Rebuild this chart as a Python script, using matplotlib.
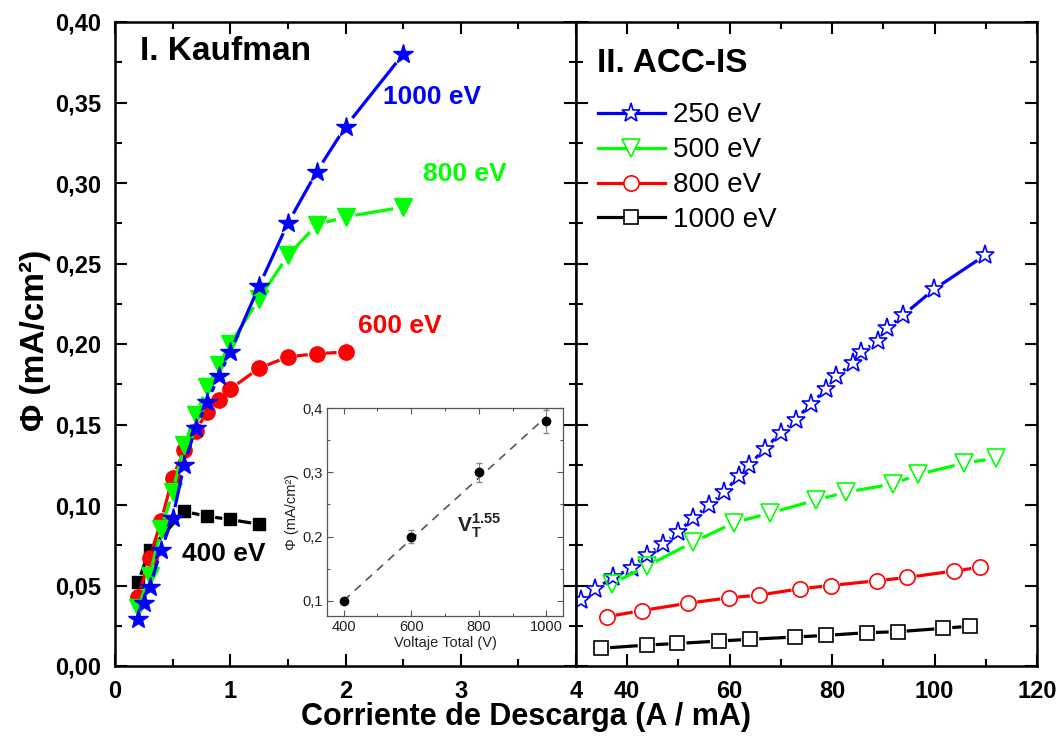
import matplotlib
matplotlib.use('Agg')
import matplotlib.pyplot as plt
from matplotlib.ticker import MultipleLocator, FixedLocator
from matplotlib.collections import LineCollection
import numpy as np

plt.rcParams['font.family'] = ['Liberation Sans', 'DejaVu Sans']
plt.rcParams['mathtext.fontset'] = 'custom'
plt.rcParams['mathtext.rm'] = 'Liberation Sans'
plt.rcParams['mathtext.bf'] = 'Liberation Sans:bold'

# ---------------- Data: panel I (Kaufman) ----------------
k1000_x = [0.2, 0.25, 0.3, 0.4, 0.5, 0.6, 0.7, 0.8, 0.9, 1.0, 1.25, 1.5, 1.75, 2.0, 2.5]
k1000_y = [0.029, 0.039, 0.049, 0.072, 0.092, 0.125, 0.148, 0.164, 0.180, 0.195, 0.236, 0.275, 0.307, 0.335, 0.380]
k800_x = [0.2, 0.3, 0.4, 0.5, 0.6, 0.7, 0.8, 0.9, 1.0, 1.25, 1.5, 1.75, 2.0, 2.5]
k800_y = [0.036, 0.056, 0.085, 0.108, 0.137, 0.156, 0.173, 0.187, 0.200, 0.228, 0.255, 0.274, 0.279, 0.285]
k600_x = [0.2, 0.3, 0.4, 0.5, 0.6, 0.7, 0.8, 0.9, 1.0, 1.25, 1.5, 1.75, 2.0]
k600_y = [0.043, 0.067, 0.090, 0.117, 0.134, 0.146, 0.158, 0.165, 0.172, 0.185, 0.192, 0.194, 0.195]
k400_x = [0.2, 0.3, 0.6, 0.8, 1.0, 1.25]
k400_y = [0.052, 0.072, 0.096, 0.093, 0.091, 0.088]

# ---------------- Data: panel II (ACC-IS) ----------------
a250_x = [31, 33.8, 37.3, 40.9, 43.8, 46.9, 49.9, 52.9, 56, 58.9, 61.8, 63.8, 66.9, 70, 72.9,
          75.9, 78.9, 80.8, 84, 85.7, 88.9, 90.8, 93.9, 99.9, 109.8]
a250_y = [0.041, 0.048, 0.055, 0.061, 0.069, 0.076, 0.083, 0.092, 0.100, 0.108, 0.118, 0.125, 0.135, 0.145, 0.153,
          0.163, 0.172, 0.180, 0.188, 0.195, 0.202, 0.210, 0.218, 0.234, 0.255]
a500_x = [37, 43.8, 52.9, 60.9, 67.9, 76.8, 82.8, 91.8, 96.8, 105.8, 111.9]
a500_y = [0.051, 0.062, 0.077, 0.089, 0.095, 0.103, 0.108, 0.113, 0.119, 0.126, 0.129]
a800_x = [36, 42.8, 51.9, 59.9, 65.7, 73.8, 79.8, 88.8, 94.7, 103.8, 108.9]
a800_y = [0.0306, 0.0344, 0.039, 0.0424, 0.044, 0.048, 0.050, 0.053, 0.055, 0.059, 0.0613]
a1000_x = [34.9, 43.8, 49.8, 57.9, 64, 72.7, 78.8, 86.8, 92.8, 101.7, 107]
a1000_y = [0.011, 0.013, 0.014, 0.0155, 0.0166, 0.018, 0.019, 0.0207, 0.0213, 0.0234, 0.0248]

# ---------------- Data: inset ----------------
ins_x = [400, 600, 800, 1000]
ins_y = [0.10, 0.20, 0.30, 0.38]
ins_err = [0.004, 0.010, 0.015, 0.018]
fit_x = [400, 1000]
fit_y = [0.10, 0.387]

# ticks / labels
k_xticks = [0, 1, 2, 3, 4]
a_xticks = [40, 60, 80, 100, 120]
y_ticks = [0.00, 0.05, 0.10, 0.15, 0.20, 0.25, 0.30, 0.35, 0.40]
ins_xticks = [400, 600, 800, 1000]
ins_yticks = [0.1, 0.2, 0.3, 0.4]

BLUE = '#0000ff'
GREEN = '#00ff00'
RED = '#ff0000'
BLACK = '#000000'

W, H = 1064, 743
fig = plt.figure(figsize=(W / 100, H / 100), dpi=100)


def fx(px):
    return px / W


def fy(py):
    return 1 - py / H


bottom = fy(666)
height = (666 - 22) / H
ax1 = fig.add_axes([fx(115), bottom, (576 - 115) / W, height])
ax2 = fig.add_axes([fx(576), bottom, (1037 - 576) / W, height])

ax1.set_xlim(0, 4)
ax1.set_ylim(0, 0.40)
ax2.set_xlim(30, 120)
ax2.set_ylim(0, 0.40)


def comma(v, d):
    return f"{v:.{d}f}".replace('.', ',')


for ax in (ax1, ax2):
    for s in ax.spines.values():
        s.set_linewidth(1.8)
    ax.tick_params(which='both', direction='in', top=True, right=True, left=True, bottom=True, width=1.5)
    ax.tick_params(which='major', length=8.5, pad=10)
    ax.tick_params(which='minor', length=5)
    ax.yaxis.set_minor_locator(MultipleLocator(0.025))

ax1.set_xticks(k_xticks, [str(v) for v in k_xticks], fontsize=17, fontweight='bold')
ax1.xaxis.set_minor_locator(MultipleLocator(0.5))
ax1.set_yticks(y_ticks, [comma(v, 2) for v in y_ticks], fontsize=17, fontweight='bold')

ax2.set_xticks(a_xticks, [str(v) for v in a_xticks], fontsize=17, fontweight='bold')
ax2.xaxis.set_minor_locator(FixedLocator([30, 50, 70, 90, 110]))
ax2.set_yticks(y_ticks)
ax2.tick_params(labelleft=False)


def gap_line(ax, x, y, color, gap_px, lw, zorder):
    pts = ax.transData.transform(np.column_stack([x, y]))
    inv = ax.transData.inverted()
    segs = []
    for (x0, y0), (x1, y1) in zip(pts[:-1], pts[1:]):
        d = np.hypot(x1 - x0, y1 - y0)
        if d <= 2 * gap_px + 1:
            continue
        ux, uy = (x1 - x0) / d, (y1 - y0) / d
        seg = np.array([[x0 + ux * gap_px, y0 + uy * gap_px], [x1 - ux * gap_px, y1 - uy * gap_px]])
        segs.append(inv.transform(seg))
    ax.add_collection(LineCollection(segs, colors=color, linewidths=lw, zorder=zorder,
                                     capstyle='butt'))


# ---- panel I ----
series1 = [
    (k400_x, k400_y, BLACK, 's', 9, 8),
    (k600_x, k600_y, RED, 'o', 11, 9),
    (k800_x, k800_y, GREEN, 'v', 13, 10),
    (k1000_x, k1000_y, BLUE, '*', 15, 11),
]
for i, (x, y, c, m, ms, gap) in enumerate(series1):
    gap_line(ax1, x, y, c, gap, 2.3, 2 + i)
    ax1.plot(x, y, linestyle='none', marker=m, markersize=ms, color=c, markeredgecolor=c, zorder=2.5 + i)

ax1.text(0.054, 0.941, 'I. Kaufman', transform=ax1.transAxes, fontsize=24, fontweight='bold', va='baseline')
ax1.text(2.326, 0.349, '1000 eV', color=BLUE, fontsize=19, fontweight='bold', va='baseline')
ax1.text(2.671, 0.301, '800 eV', color=GREEN, fontsize=19, fontweight='bold', va='baseline')
ax1.text(2.112, 0.2066, '600 eV', color=RED, fontsize=19, fontweight='bold', va='baseline')
ax1.text(0.579, 0.0652, '400 eV', color=BLACK, fontsize=19, fontweight='bold', va='baseline')

# ---- panel II ----
series2 = [
    (a250_x, a250_y, BLUE, '*', 14, 9, '250 eV'),
    (a500_x, a500_y, GREEN, 'v', 13, 10, '500 eV'),
    (a800_x, a800_y, RED, 'o', 11, 9, '800 eV'),
    (a1000_x, a1000_y, BLACK, 's', 9.5, 9, '1000 eV'),
]
handles = []
for i, (x, y, c, m, ms, gap, lab) in enumerate(series2):
    gap_line(ax2, x, y, c, gap, 2.3, 2 + i)
    ax2.plot(x, y, linestyle='none', marker=m, markersize=ms, markerfacecolor='none',
             markeredgecolor=c, markeredgewidth=1.2, zorder=2.5 + i)
    h, = ax2.plot([], [], linestyle='-', color=c, lw=2.3, marker=m, markersize=ms,
                  markerfacecolor='white', markeredgecolor=c, markeredgewidth=1.2, label=lab)
    handles.append(h)

ax2.text(0.045, 0.923, 'II. ACC-IS', transform=ax2.transAxes, fontsize=24, fontweight='bold', va='baseline')
ax2.legend(handles=handles, loc='upper left', bbox_to_anchor=(0.048, 0.875), frameon=False,
           fontsize=20, handlelength=2.4, handletextpad=0.3, labelspacing=0.32,
           borderpad=0, borderaxespad=0)

# ---- axis labels ----
fig.text(fx(526), fy(725), 'Corriente de Descarga (A / mA)', ha='center', va='baseline',
         fontsize=22, fontweight='bold')
fig.text(fx(35), fy(340), 'Φ (mA/cm²)', ha='center', va='center', rotation=90,
         fontsize=24, fontweight='bold')

# ---- inset ----
ax3 = fig.add_axes([fx(326.7), fy(616), (563.3 - 326.7) / W, (616 - 408.3) / H])
ax3.set_facecolor('white')
ax3.set_zorder(10)
ax3.set_xlim(350, 1050)
ax3.set_ylim(0.076, 0.40)
for s in ax3.spines.values():
    s.set_linewidth(0.9)
    s.set_color('#555555')
ax3.plot(fit_x, fit_y, linestyle=(0, (5, 4)), color='#555555', lw=1.2, zorder=2)
ax3.errorbar(ins_x, ins_y, yerr=ins_err, fmt='o', color='black', markersize=6,
             ecolor='#888888', elinewidth=0.8, capsize=2, zorder=3)
ax3.set_xticks(ins_xticks, [str(v) for v in ins_xticks], fontsize=10.5)
ax3.set_yticks(ins_yticks, [comma(v, 1) for v in ins_yticks], fontsize=10.5)
ax3.xaxis.set_minor_locator(FixedLocator([500, 700, 900]))
ax3.yaxis.set_minor_locator(FixedLocator([0.15, 0.25, 0.35]))
ax3.tick_params(which='both', direction='in', top=True, right=True, width=0.8, colors='#555555',
                labelcolor='#222222', pad=3)
ax3.tick_params(which='major', length=4)
ax3.tick_params(which='minor', length=2.5)
ax3.set_xlabel('Voltaje Total (V)', fontsize=10.5, labelpad=1, color='#222222')
ax3.set_ylabel('Φ (mA/cm²)', fontsize=10.5, labelpad=2, color='#222222')
ax3.text(0.549, 0.406, r'$\mathbf{V}_\mathbf{T}^\mathbf{1.55}$', transform=ax3.transAxes,
         fontsize=15, va='baseline', color='#222222')

fig.savefig('out.png', dpi=100)
